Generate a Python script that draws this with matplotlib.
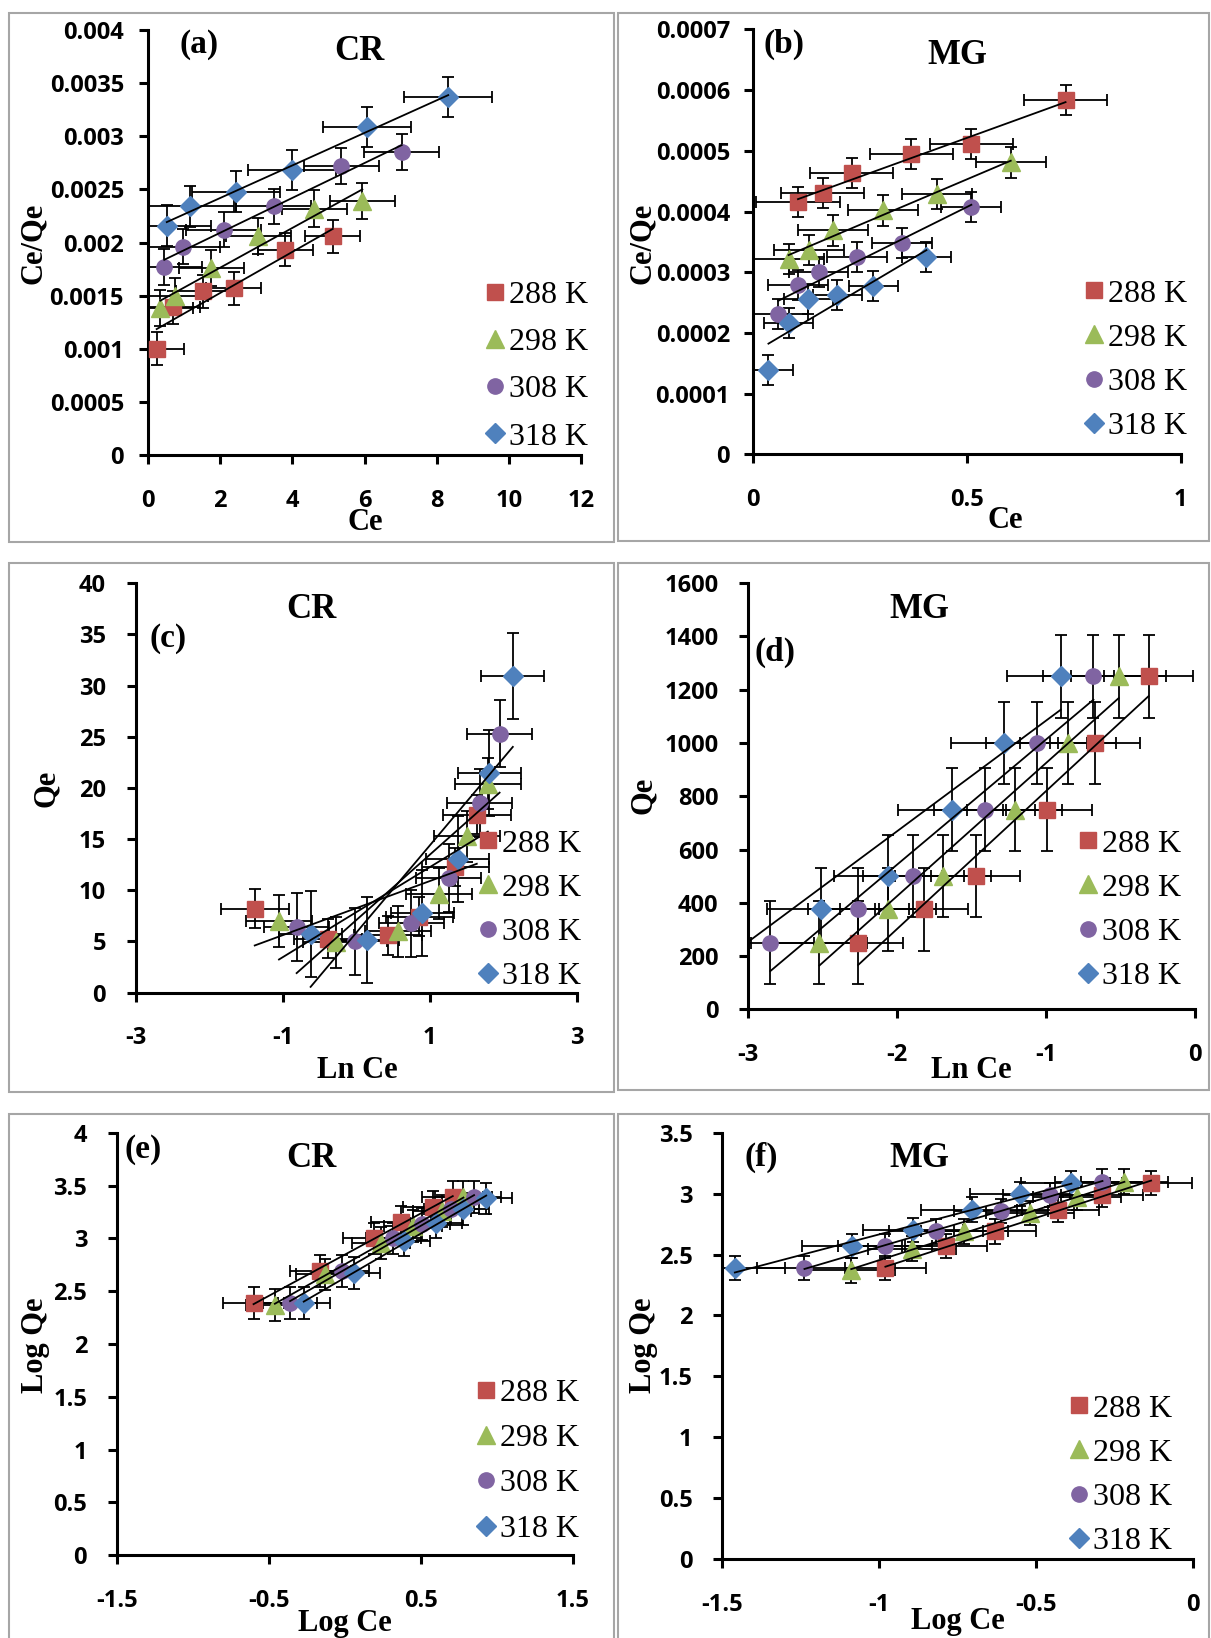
import numpy as np
import matplotlib
matplotlib.use('Agg')
import matplotlib.pyplot as plt
from matplotlib.patches import Rectangle
from matplotlib.font_manager import FontProperties

W, H = 1211, 1638

temps = ['288 K', '298 K', '308 K', '318 K']
colors = ['#C0504D', '#9BBB59', '#8064A2', '#4F81BD']
markers = ['s', '^', 'o', 'D']
msizes = [11, 12.5, 11, 10]

# (a) CR: Ce vs Ce/Qe
a_x = [[0.24, 0.69, 1.53, 2.37, 3.81, 5.12],
       [0.34, 0.76, 1.75, 3.05, 4.61, 5.94],
       [0.45, 0.96, 2.10, 3.49, 5.35, 7.03],
       [0.52, 1.16, 2.43, 3.98, 6.08, 8.32]]
a_y = [[0.00100, 0.00139, 0.00154, 0.00157, 0.00193, 0.00206],
       [0.00138, 0.00150, 0.00176, 0.00206, 0.00232, 0.00239],
       [0.00177, 0.00196, 0.00212, 0.00234, 0.00272, 0.00285],
       [0.00216, 0.00234, 0.00248, 0.00268, 0.00309, 0.00337]]
a_xerr = [0.76, 0.90, 1.04, 1.22]
a_yerr = [0.000155, 0.00017, 0.000167, 0.00019]

# (b) MG: Ce vs Ce/Qe
b_x = [[0.106, 0.164, 0.232, 0.371, 0.511, 0.731],
       [0.084, 0.131, 0.188, 0.304, 0.430, 0.603],
       [0.060, 0.107, 0.154, 0.244, 0.348, 0.511],
       [0.037, 0.084, 0.130, 0.198, 0.282, 0.406]]
b_y = [[4.16e-4, 4.31e-4, 4.64e-4, 4.95e-4, 5.11e-4, 5.84e-4],
       [3.22e-4, 3.37e-4, 3.69e-4, 4.02e-4, 4.29e-4, 4.81e-4],
       [2.31e-4, 2.79e-4, 3.00e-4, 3.25e-4, 3.48e-4, 4.08e-4],
       [1.39e-4, 2.16e-4, 2.56e-4, 2.63e-4, 2.77e-4, 3.25e-4]]
b_xerr = [0.097, 0.082, 0.070, 0.057]
b_yerr = [2.5e-5, 2.5e-5, 2.5e-5, 2.5e-5]

# (c) CR: Ln Ce vs Qe
c_x = [[-1.38, -0.38, 0.43, 0.86, 1.35, 1.64],
       [-1.05, -0.28, 0.57, 1.13, 1.51, 1.79],
       [-0.81, -0.02, 0.75, 1.26, 1.68, 1.95],
       [-0.62, 0.15, 0.90, 1.38, 1.81, 2.13]]
c_y = [[8.2, 5.27, 5.6, 7.43, 12.27, 17.4],
       [7.0, 4.93, 6.0, 9.67, 15.27, 20.4],
       [6.43, 5.0, 6.77, 11.2, 18.5, 25.3],
       [5.77, 5.17, 7.77, 13.03, 21.43, 30.93]]
c_xerr = [0.46, 0.45, 0.44, 0.43]
c_yerr = [1.9, 2.5, 3.3, 4.2]

# (d) MG: Ln Ce vs Qe
d_x = [[-2.26, -1.82, -1.47, -0.99, -0.67, -0.31],
       [-2.52, -2.06, -1.69, -1.21, -0.85, -0.51],
       [-2.85, -2.26, -1.89, -1.41, -1.06, -0.68],
       [-3.34, -2.51, -2.06, -1.63, -1.28, -0.90]]
d_qe = [250, 375, 500, 750, 1000, 1250]
d_y = [d_qe, d_qe, d_qe, d_qe]
d_xerr = [0.30, 0.32, 0.34, 0.36]
d_yerr = [155, 155, 155, 155]

# (e) CR: Log Ce vs Log Qe
e_x = [[-0.60, -0.16, 0.19, 0.37, 0.58, 0.71],
       [-0.46, -0.13, 0.24, 0.45, 0.64, 0.78],
       [-0.36, -0.02, 0.32, 0.51, 0.70, 0.85],
       [-0.27, 0.06, 0.39, 0.60, 0.78, 0.93]]
e_y = [[2.39, 2.69, 3.00, 3.16, 3.30, 3.39],
       [2.37, 2.66, 2.96, 3.12, 3.26, 3.39],
       [2.39, 2.69, 3.00, 3.14, 3.28, 3.39],
       [2.39, 2.67, 2.98, 3.15, 3.28, 3.38]]
e_xerr = [0.20, 0.19, 0.18, 0.17]
e_yerr = [0.15, 0.15, 0.15, 0.15]

# (f) MG: Log Ce vs Log Qe
f_x = [[-0.98, -0.786, -0.631, -0.43, -0.29, -0.133],
       [-1.089, -0.895, -0.728, -0.52, -0.369, -0.218],
       [-1.238, -0.982, -0.819, -0.611, -0.456, -0.288],
       [-1.46, -1.086, -0.893, -0.705, -0.55, -0.387]]
f_y = [[2.39, 2.57, 2.69, 2.87, 2.99, 3.09],
       [2.37, 2.55, 2.69, 2.84, 2.97, 3.10],
       [2.39, 2.57, 2.69, 2.86, 2.99, 3.10],
       [2.39, 2.57, 2.70, 2.87, 3.00, 3.09]]
f_xerr = [0.13, 0.14, 0.15, 0.16]
f_yerr = [0.10, 0.10, 0.10, 0.10]

tick_font = dict(family='Open Sans', weight='bold', size=17)
serif_bold = dict(family='Liberation Serif', weight='bold')
leg_prop = FontProperties(family='Liberation Serif', size=23)

fig = plt.figure(figsize=(W / 100, H / 100), dpi=100)


def px_rect(l, r, t, b):
    return [l / W, 1 - b / H, (r - l) / W, (b - t) / H]


def ftext(x, y, s, size, **kw):
    fig.text(x / W, 1 - y / H, s, ha='center', va='center', fontsize=size,
             **serif_bold, **kw)


def panel(box, xs, ys, xerr, yerr, xlim, ylim, xticks, yticks, ypad, leg_xy, spacing):
    ax = fig.add_axes(px_rect(*box))
    for i in range(4):
        x = np.array(xs[i], dtype=float)
        y = np.array(ys[i], dtype=float)
        ax.errorbar(x, y, xerr=xerr[i], yerr=yerr[i], fmt='none', ecolor='black',
                    elinewidth=1.3, capsize=4, capthick=1.3, zorder=2)
        ax.plot(x, y, ls='none', marker=markers[i], ms=msizes[i], mfc=colors[i],
                mec=colors[i], zorder=3, label=temps[i])
        # linear trendline over the data range
        k, b0 = np.polyfit(x, y, 1)
        xx = np.array([x.min(), x.max()])
        ax.plot(xx, k * xx + b0, color='black', lw=1.3, zorder=4)
    ax.set_xlim(*xlim)
    ax.set_ylim(*ylim)
    ax.set_xticks(xticks)
    ax.set_xticklabels(['{:g}'.format(v) for v in xticks], fontdict=tick_font)
    ax.set_yticks(yticks)
    ax.set_yticklabels(['{:g}'.format(v) for v in yticks], fontdict=tick_font)
    for s in ['top', 'right']:
        ax.spines[s].set_visible(False)
    for s in ['left', 'bottom']:
        ax.spines[s].set_linewidth(2.2)
    ax.tick_params(axis='both', direction='out', length=6.3, width=2.2)
    ax.tick_params(axis='x', pad=18)
    ax.tick_params(axis='y', pad=ypad)
    ax.patch.set_visible(False)
    ax.legend(loc='center left', bbox_to_anchor=(leg_xy[0] / W, 1 - leg_xy[1] / H),
              bbox_transform=fig.transFigure, frameon=False, prop=leg_prop,
              handlelength=0.6, handletextpad=0.15, labelspacing=spacing,
              borderpad=0, borderaxespad=0)
    return ax


# panel frames
for (l, t, r, b) in [(8.6, 13.2, 613.7, 542), (618, 13, 1209, 540.5),
                     (8.6, 563.4, 613.7, 1092), (618, 563.4, 1209, 1090),
                     (8.6, 1114, 613.7, 1645), (618, 1114, 1209, 1645)]:
    fig.patches.append(Rectangle((l / W, 1 - b / H), (r - l) / W, (b - t) / H,
                                 transform=fig.transFigure, fill=False,
                                 edgecolor='#A6A6A6', lw=1.5))

panel((148, 581, 30, 455), a_x, a_y, a_xerr, a_yerr, (0, 12), (0, 0.004),
      [0, 2, 4, 6, 8, 10, 12], list(np.round(np.arange(0, 0.00401, 0.0005), 5)),
      11, (485, 366), 0.56)
panel((752.6, 1180.7, 29.5, 454.3), b_x, b_y, b_xerr, b_yerr, (0, 1), (0, 0.0007),
      [0, 0.5, 1], list(np.round(np.arange(0, 0.00071, 0.0001), 5)),
      10, (1084, 360), 0.46)
panel((135.6, 576.8, 583.2, 992.6), c_x, c_y, c_xerr, c_yerr, (-3, 3), (0, 40),
      [-3, -1, 1, 3], list(range(0, 41, 5)), 15, (478, 910), 0.46)
panel((748, 1194.7, 583.2, 1009.3), d_x, d_y, d_xerr, d_yerr, (-3, 0), (0, 1600),
      [-3, -2, -1, 0], list(range(0, 1601, 200)), 15, (1078, 910), 0.46)
panel((116.7, 572.9, 1132.9, 1555.1), e_x, e_y, e_xerr, e_yerr, (-1.5, 1.5), (0, 4),
      [-1.5, -0.5, 0.5, 1.5], list(np.arange(0, 4.01, 0.5)), 15, (476, 1461), 0.5)
panel((722.3, 1192.8, 1132.9, 1558.8), f_x, f_y, f_xerr, f_yerr, (-1.5, 0), (0, 3.5),
      [-1.5, -1, -0.5, 0], list(np.arange(0, 3.51, 0.5)), 15, (1069, 1475), 0.46)

# titles and panel letters
ftext(359.5, 51, 'CR', 25)
ftext(199, 44.5, '(a)', 24)
ftext(957.6, 55.6, 'MG', 25)
ftext(784, 44.5, '(b)', 24)
ftext(311.6, 609.5, 'CR', 25)
ftext(168, 639, '(c)', 24)
ftext(919.6, 609.5, 'MG', 25)
ftext(774.6, 652, '(d)', 24)
ftext(311.6, 1158.8, 'CR', 25)
ftext(143.4, 1149.7, '(e)', 24)
ftext(919.6, 1158.8, 'MG', 25)
ftext(761, 1157.8, '(f)', 24)

# axis labels
ftext(33, 243, 'Ce/Qe', 22, rotation=90)
ftext(365, 523, 'Ce', 22)
ftext(642, 243, 'Ce/Qe', 22, rotation=90)
ftext(1005, 521, 'Ce', 22)
ftext(46, 788, 'Qe', 22, rotation=90)
ftext(357.6, 1070, 'Ln Ce', 22)
ftext(643, 795, 'Qe', 22, rotation=90)
ftext(971.6, 1070, 'Ln Ce', 22)
ftext(35, 1345.7, 'Log Qe', 22, rotation=90)
ftext(345, 1623.5, 'Log Ce', 22)
ftext(643, 1345.7, 'Log Qe', 22, rotation=90)
ftext(958, 1621.8, 'Log Ce', 22)

fig.savefig('out.png', dpi=100)
